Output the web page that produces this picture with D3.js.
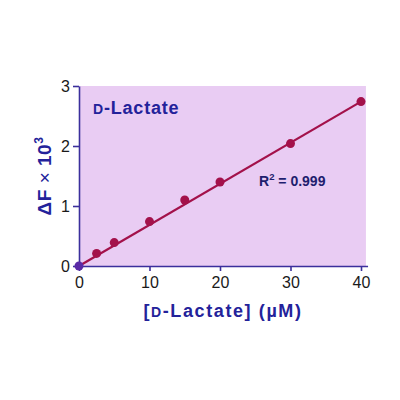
<!DOCTYPE html>
<html><head><meta charset="utf-8">
<script src="https://cdn.jsdelivr.net/npm/d3@7"></script>
<style>body{margin:0;background:#fff}svg{display:block}</style>
</head><body>
<svg id="c" width="400" height="400"></svg>
<script>
const concentrations = [0, 2.5, 5, 10, 15, 20, 30, 40];
const deltaF = [0, 0.21, 0.39, 0.74, 1.10, 1.40, 2.04, 2.74];
const fitX = [0, 40];
const fitY = [0, 2.74];
const xTicks = [0, 10, 20, 30, 40];
const yTicks = [0, 1, 2, 3];

const svg = d3.select("#c");
const x = d3.scaleLinear().domain([0, 40]).range([79, 361]);
const y = d3.scaleLinear().domain([0, 3]).range([266, 86]);

svg.append("rect").attr("x", x(0)).attr("y", y(3))
  .attr("width", x(40.7) - x(0)).attr("height", y(0) - y(3))
  .attr("fill", "#e9ccf3");

const axisColor = "#3b2f9c";
const font = "Liberation Sans, Arial, sans-serif";
const gx = svg.append("g").attr("transform", `translate(0,${y(0)})`)
  .call(d3.axisBottom(x).tickValues(xTicks).tickFormat(d3.format("d")).tickSize(5).tickPadding(6).tickSizeOuter(0));
const gy = svg.append("g").attr("transform", `translate(${x(0)},0)`)
  .call(d3.axisLeft(y).tickValues(yTicks).tickFormat(d3.format("d")).tickSize(6).tickPadding(3).tickSizeOuter(0));
gx.select(".domain").attr("d", `M${x(0)},0.5H${x(41)}`);
[gx, gy].forEach(g => {
  g.selectAll("path,line").attr("stroke", axisColor).attr("stroke-width", 1.6);
  g.selectAll("text").attr("fill", "#1a1a1a").attr("font-family", font).attr("font-size", 16);
});

svg.append("line")
  .attr("x1", x(fitX[0])).attr("y1", y(fitY[0]))
  .attr("x2", x(fitX[1])).attr("y2", y(fitY[1]))
  .attr("stroke", "#a3114a").attr("stroke-width", 2.2);

svg.selectAll("circle.pt").data(concentrations).enter().append("circle")
  .attr("class", "pt")
  .attr("cx", d => x(d)).attr("cy", (d, i) => y(deltaF[i]))
  .attr("r", 4.5)
  .attr("fill", (d, i) => i === 0 ? "#5b2aa6" : "#a3114a");

const blue = "#23229a";

const t1 = svg.append("text").attr("x", 93).attr("y", 114)
  .attr("font-family", font).attr("font-weight", "bold").attr("fill", blue).attr("font-size", 18)
  .attr("letter-spacing", 0.8);
t1.append("tspan").attr("font-size", 14).text("D");
t1.append("tspan").text("-Lactate");

const r2 = svg.append("text").attr("x", 259).attr("y", 186)
  .attr("font-family", font).attr("font-weight", "bold").attr("fill", "#1e1e6e").attr("font-size", 14);
r2.append("tspan").text("R");
r2.append("tspan").attr("font-size", 9.5).attr("dy", -6).text("2");
r2.append("tspan").attr("dy", 6).text(" = 0.999");

const yl = svg.append("text").attr("transform", "translate(51,176) rotate(-90)")
  .attr("text-anchor", "middle").attr("font-family", font).attr("font-weight", "bold")
  .attr("fill", blue).attr("font-size", 19).attr("letter-spacing", 0.5);
yl.append("tspan").text("\u0394F ");
yl.append("tspan").attr("font-weight", "normal").text("\u00d7");
yl.append("tspan").text(" 10");
yl.append("tspan").attr("font-size", 12).attr("dy", -8).text("3");

const xl = svg.append("text").attr("x", 223).attr("y", 317)
  .attr("text-anchor", "middle").attr("font-family", font).attr("font-weight", "bold")
  .attr("fill", blue).attr("font-size", 18).attr("letter-spacing", 1.6);
xl.append("tspan").text("[");
xl.append("tspan").attr("font-size", 14).text("D");
xl.append("tspan").text("-Lactate] (\u00b5M)");
</script>
</body></html>
